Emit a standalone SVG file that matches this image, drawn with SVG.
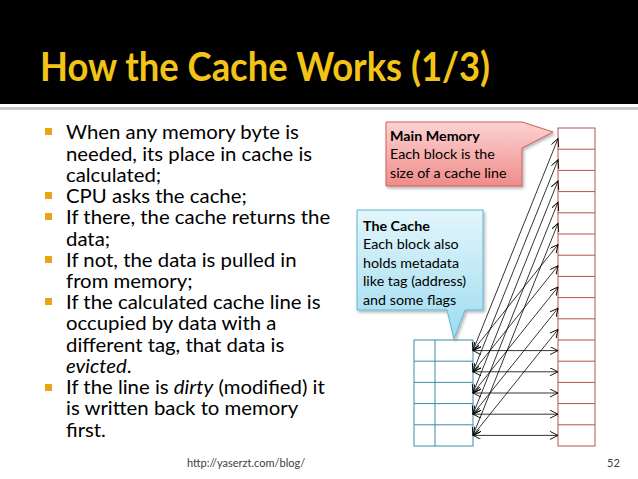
<svg xmlns="http://www.w3.org/2000/svg" width="638" height="479" viewBox="0 0 638 479">
<style>
.title{font-family:Lato,"Liberation Sans",sans-serif;font-weight:bold;font-size:40px;fill:#f2c417}
.body{font-family:Lato,"Liberation Sans",sans-serif;font-size:18.5px;fill:#000}
.bullet{fill:#e8a416}
.call{font-family:Lato,"Liberation Sans",sans-serif;font-size:13px;fill:#000}
.b{font-weight:bold}
.foot{font-family:Lato,"Liberation Sans",sans-serif;font-size:11px;fill:#404040}
.mem{fill:#fff;stroke:#b5534f;stroke-width:1}
.cache{fill:#fff;stroke:#3a8da5;stroke-width:1}
.conn line{stroke:#000;stroke-width:0.8;marker-start:url(#ah);marker-end:url(#ah)}
</style>
<defs>
<linearGradient id="gRed" x1="0" y1="0" x2="0" y2="1">
<stop offset="0" stop-color="#fbd3d2"/>
<stop offset="1" stop-color="#f08c8a"/>
</linearGradient>
<linearGradient id="gBlue" x1="0" y1="0" x2="0" y2="1">
<stop offset="0" stop-color="#e3f5fb"/>
<stop offset="1" stop-color="#9ddcf0"/>
</linearGradient>
<marker id="ah" markerUnits="userSpaceOnUse" markerWidth="10" markerHeight="9" refX="8" refY="4" orient="auto-start-reverse">
<path d="M0,0 L8,4 L0,8" fill="none" stroke="#000" stroke-width="0.9"/>
</marker>
<filter id="sh" x="-10%" y="-10%" width="130%" height="130%">
<feDropShadow dx="1.5" dy="2" stdDeviation="1.5" flood-color="#000" flood-opacity="0.3"/>
</filter>
</defs>
<rect width="638" height="479" fill="#fff"/>
<rect x="0" y="0" width="638" height="104" fill="#000"/>
<rect x="0" y="107" width="638" height="3" fill="#c8c8c8"/>
<text class="title" x="40" y="81" textLength="450" lengthAdjust="spacingAndGlyphs">How the Cache Works (1/3)</text>

<g id="bullets">
<rect class="bullet" x="45" y="128" width="7" height="7"/>
<rect class="bullet" x="45" y="192" width="7" height="7"/>
<rect class="bullet" x="45" y="213" width="7" height="7"/>
<rect class="bullet" x="45" y="256" width="7" height="7"/>
<rect class="bullet" x="45" y="298" width="7" height="7"/>
<rect class="bullet" x="45" y="384" width="7" height="7"/>
<g transform="translate(66,0) scale(1.1,1)">
<text class="body" x="0" y="139">When any memory byte is</text>
<text class="body" x="0" y="161">needed, its place in cache is</text>
<text class="body" x="0" y="182">calculated;</text>
<text class="body" x="0" y="203">CPU asks the cache;</text>
<text class="body" x="0" y="224">If there, the cache returns the</text>
<text class="body" x="0" y="246">data;</text>
<text class="body" x="0" y="267">If not, the data is pulled in</text>
<text class="body" x="0" y="288">from memory;</text>
<text class="body" x="0" y="309">If the calculated cache line is</text>
<text class="body" x="0" y="330">occupied by data with a</text>
<text class="body" x="0" y="352">different tag, that data is</text>
<text class="body" x="0" y="373"><tspan font-style="italic">evicted</tspan>.</text>
<text class="body" x="0" y="394">If the line is <tspan font-style="italic">dirty</tspan> (modified) it</text>
<text class="body" x="0" y="415">is written back to memory</text>
<text class="body" x="0" y="437">first.</text>
</g>
</g>

<g id="main-memory">
<rect class="mem" x="558" y="128" width="37" height="318"/>
<path fill="none" stroke="#b5534f" stroke-width="1" d="M558,149.2H595M558,170.4H595M558,191.6H595M558,212.8H595M558,234H595M558,255.2H595M558,276.4H595M558,297.6H595M558,318.8H595M558,340H595M558,361.2H595M558,382.4H595M558,403.6H595M558,424.8H595"/>
</g>

<g id="cache">
<rect class="cache" x="414" y="340" width="59" height="106" stroke="#7fc4dc"/>
<path fill="none" stroke="#3a8da5" stroke-width="1" d="M435,340V446M414,361.2H473M414,382.4H473M414,403.6H473M414,424.8H473"/>
</g>

<g id="connectors" class="conn">
<line x1="473" y1="350.6" x2="558" y2="138.6"/>
<line x1="473" y1="371.8" x2="558" y2="159.8"/>
<line x1="473" y1="393" x2="558" y2="181"/>
<line x1="473" y1="414.2" x2="558" y2="202.2"/>
<line x1="473" y1="435.4" x2="558" y2="223.4"/>
<line x1="473" y1="350.6" x2="558" y2="244.6"/>
<line x1="473" y1="371.8" x2="558" y2="265.8"/>
<line x1="473" y1="393" x2="558" y2="287"/>
<line x1="473" y1="414.2" x2="558" y2="308.2"/>
<line x1="473" y1="435.4" x2="558" y2="329.4"/>
<line x1="473" y1="350.6" x2="558" y2="350.6"/>
<line x1="473" y1="371.8" x2="558" y2="371.8"/>
<line x1="473" y1="393" x2="558" y2="393"/>
<line x1="473" y1="414.2" x2="558" y2="414.2"/>
<line x1="473" y1="435.4" x2="558" y2="435.4"/>
</g>

<g id="callout-memory">
<path d="M386,122H522L553,132L522,148V186H386Z" fill="url(#gRed)" stroke="#d0605c" stroke-width="1" filter="url(#sh)"/>
<g transform="translate(390,0) scale(1.1,1)">
<text class="call b" x="0" y="141">Main Memory</text>
<text class="call" x="0" y="159.5">Each block is the</text>
<text class="call" x="0" y="178">size of a cache line</text>
</g>
</g>

<g id="callout-cache">
<path d="M357,210H483V310H465L454,339L447,310H357Z" fill="url(#gBlue)" stroke="#5fb6d2" stroke-width="1" filter="url(#sh)"/>
<g transform="translate(363,0) scale(1.1,1)">
<text class="call b" x="0" y="231">The Cache</text>
<text class="call" x="0" y="249.5">Each block also</text>
<text class="call" x="0" y="268">holds metadata</text>
<text class="call" x="0" y="286.5">like tag (address)</text>
<text class="call" x="0" y="305">and some flags</text>
</g>
</g>

<text class="foot" x="187" y="467">http://yaserzt.com/blog/</text>
<text class="foot" x="607" y="467">52</text>
</svg>
